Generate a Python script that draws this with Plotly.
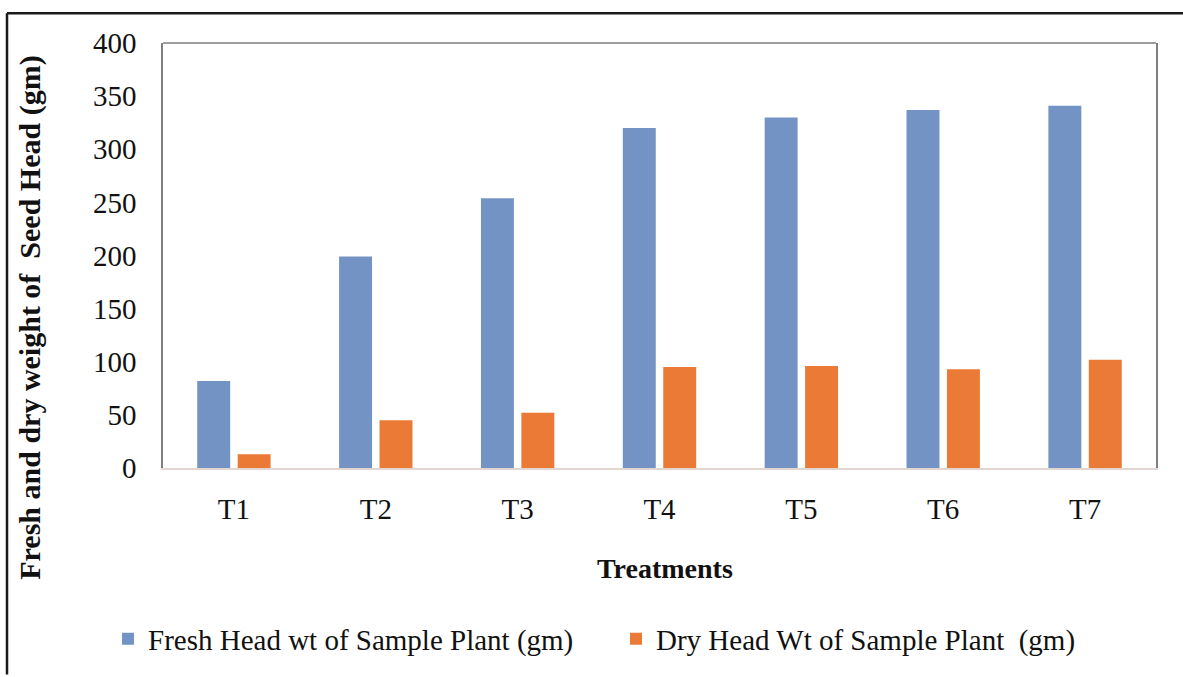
import plotly.graph_objects as go

# Treatments and measured head weights (gm)
treatments = ["T1", "T2", "T3", "T4", "T5", "T6", "T7"]
fresh_head_wt = [82, 199, 254, 320, 330, 337, 341]
dry_head_wt = [13, 45, 52, 95, 96, 93, 102]

y_ticks = [0, 50, 100, 150, 200, 250, 300, 350, 400]

FONT = "Liberation Serif, Times New Roman, serif"
BLUE = "#7293C3"
ORANGE = "#EA7A35"

W, H = 1183, 677
L, R, T, B = 163, 27, 43, 204
PW, PH = W - L - R, H - T - B


def px_x(px):
    return (px - L) / PW


def px_y(py):
    return (H - B - py) / PH


fig = go.Figure()
fig.add_bar(
    x=treatments, y=fresh_head_wt,
    name="Fresh Head wt of Sample Plant (gm)",
    marker=dict(color=BLUE, line=dict(width=0)),
)
fig.add_bar(
    x=treatments, y=dry_head_wt,
    name="Dry Head Wt of Sample Plant  (gm)",
    marker=dict(color=ORANGE, line=dict(width=0)),
)

shapes = [
    # top edge of the plotting box
    dict(type="line", xref="paper", yref="paper", x0=0, x1=1, y0=1, y1=1,
         line=dict(color="#7f7f7f", width=1.5)),
    # outer frame (top and left)
    dict(type="line", xref="paper", yref="paper",
         x0=px_x(7), x1=px_x(W + 5), y0=px_y(13), y1=px_y(13),
         line=dict(color="#1a1a1a", width=2.5)),
    dict(type="line", xref="paper", yref="paper",
         x0=px_x(7), x1=px_x(7), y0=px_y(13), y1=px_y(H + 5),
         line=dict(color="#1a1a1a", width=2.5)),
]

annotations = [
    dict(text="<b>Fresh and dry weight of\u00a0 Seed Head (gm)</b>",
         xref="paper", yref="paper", x=px_x(30), y=px_y(321),
         textangle=-90, showarrow=False, xanchor="center", yanchor="middle",
         font=dict(family=FONT, size=30, color="#111111")),
    dict(text="<b>Treatments</b>",
         xref="paper", yref="paper", x=px_x(665), y=px_y(575),
         showarrow=False, xanchor="center", yanchor="middle",
         font=dict(family=FONT, size=28, color="#111111")),
]

fig.update_layout(
    width=W, height=H,
    margin=dict(l=L, r=R, t=T, b=B, pad=0),
    paper_bgcolor="white", plot_bgcolor="white",
    barmode="group", bargap=0.43, bargroupgap=0.185,
    font=dict(family=FONT, size=29, color="#111111"),
    showlegend=True,
    legend=dict(
        orientation="h", xanchor="left", yanchor="middle",
        x=px_x(108), y=px_y(646),
        font=dict(family=FONT, size=29, color="#111111"),
        entrywidth=463, entrywidthmode="pixels",
        bgcolor="rgba(0,0,0,0)",
    ),
    shapes=shapes,
    annotations=annotations,
)

fig.update_xaxes(
    showgrid=False, zeroline=False,
    showline=True, linecolor="#e3d6d2", linewidth=1.5,
    ticks="", ticklabelstandoff=14,
    tickfont=dict(family=FONT, size=29, color="#111111"),
)
fig.update_yaxes(
    range=[0, 400], tickvals=y_ticks,
    showgrid=False, zeroline=False,
    showline=True, mirror=True, linecolor="#7f7f7f", linewidth=1.5,
    ticks="", ticklabelstandoff=19,
    tickfont=dict(family=FONT, size=29, color="#111111"),
)

fig.write_html("out.html")
